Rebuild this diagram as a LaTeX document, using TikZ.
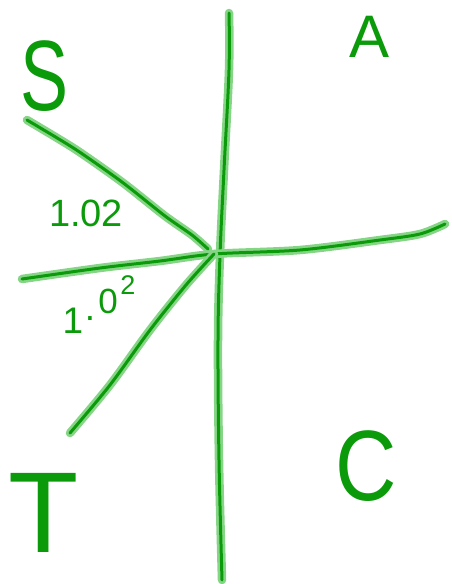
\documentclass[tikz,border=0pt]{standalone}
\usepackage{fontspec}
\setmainfont{Liberation Sans}
\definecolor{inkcore}{HTML}{0A9A0A}
\definecolor{inkhalo}{HTML}{86D586}
\tikzset{
  stroke/.style={draw=inkcore, line width=3pt, line cap=round, line join=round,
    preaction={draw=inkhalo, line width=8.5pt, line cap=round, line join=round}},
  letter/.style={text=inkcore, inner sep=0pt, font=\fontsize{#1}{#1}\selectfont},
}
\begin{document}
\begin{tikzpicture}[x=1pt,y=-1pt]
\useasboundingbox (0,0) rectangle (451,584);
% named points
\coordinate (c) at (214,254);
\coordinate (vc) at (220,255);
\coordinate (vtop) at (229,13);
\coordinate (vbot) at (222,580);
\coordinate (hl) at (22,279);
\coordinate (hr) at (445,224);
\coordinate (ul) at (27,120);
\coordinate (ue) at (208,249);
\coordinate (ll) at (70,433);
% vertical line
\draw[stroke] plot[smooth, tension=0.6] coordinates {(vtop) (229,70) (224,170) (vc) (218,340) (219,460) (vbot)};
% horizontal line
\draw[stroke] plot[smooth, tension=0.5] coordinates {(hl) (100,268) (160,261) (c) (300,250) (380,240) (420,234) (hr)};
% upper diagonal
\draw[stroke] plot[smooth, tension=0.4] coordinates {(ul) (75,149) (122,182) (165,216) (192,235) (ue)};
% lower diagonal
\draw[stroke] plot[smooth, tension=0.5] coordinates {(c) (186,285) (150,330) (110,385) (ll)};
% letters
\node[letter=100, xscale=0.72] (S) at (45,76) {S};
\node[letter=60] (A) at (370,37) {A};
\node[letter=100, xscale=0.85] (C) at (366,466) {C};
\node[letter=115] (T) at (44,513) {T};
\node[letter=38] (l1) at (86,213) {1.02};
\node[letter=37, anchor=base] (d1) at (73,333) {1};
\node[letter=37, anchor=base] (d2) at (90,320) {.};
\node[letter=35, anchor=base] (d3) at (108,313) {0};
\node[letter=27, anchor=base] (d4) at (128,294) {2};
\end{tikzpicture}
\end{document}
